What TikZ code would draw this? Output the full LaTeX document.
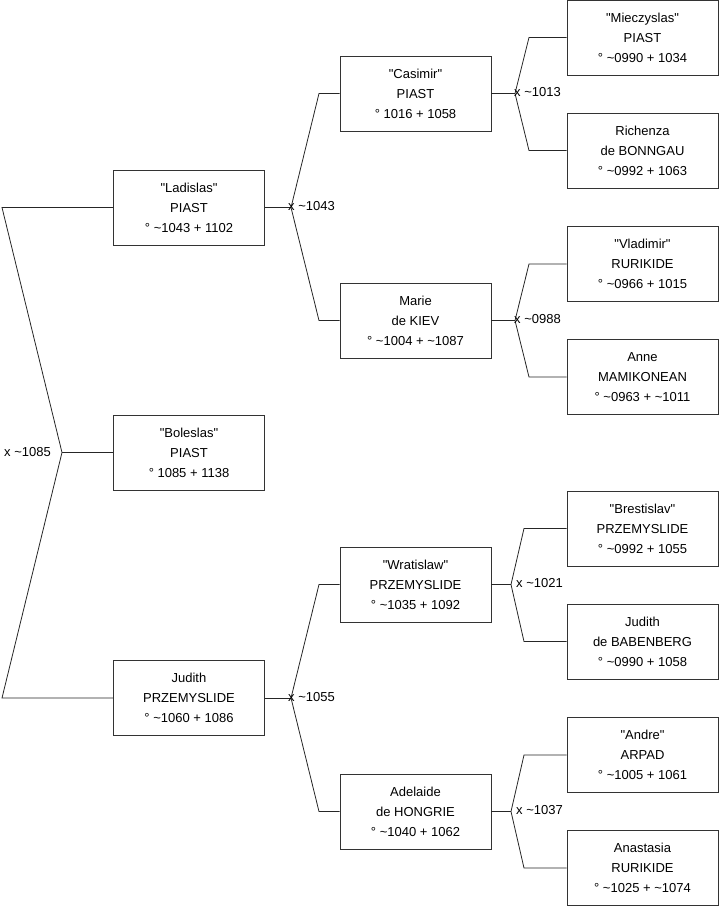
\documentclass[tikz,border=0pt]{standalone}
\usepackage{fontspec}
\setmainfont{Liberation Sans}
\usepackage{xcolor}
\usepackage{tikz}

\newcommand{\qq}[1]{\textquotedbl#1\textquotedbl}

\tikzset{
  person/.style={draw=black!80, line width=0.9pt, minimum width=151pt, minimum height=75pt,
    inner sep=0pt, align=center, font=\fontsize{13}{20}\selectfont},
  link/.style={draw=black!85, line width=0.8pt},
  wed/.style={inner sep=0pt, font=\fontsize{13}{15}\selectfont}
}

\begin{document}
\begin{tikzpicture}[x=1pt, y=-1pt]
  \useasboundingbox (0,0) rectangle (719,908);

  % generation 1
  \node[person] (lad) at (189,207.5) {\qq{Ladislas}\\PIAST\\° \textasciitilde1043 + 1102};
  \node[person] (bol) at (189,452.5) {\qq{Boleslas}\\PIAST\\° 1085 + 1138};
  \node[person] (jud) at (189,698) {Judith\\PRZEMYSLIDE\\° \textasciitilde1060 + 1086};

  % generation 2
  \node[person] (cas) at (415.5,93.5) {\qq{Casimir}\\PIAST\\° 1016 + 1058};
  \node[person] (mar) at (415.5,320.5) {Marie\\de KIEV\\° \textasciitilde1004 + \textasciitilde1087};
  \node[person] (wra) at (415.5,584.5) {\qq{Wratislaw}\\PRZEMYSLIDE\\° \textasciitilde1035 + 1092};
  \node[person] (ade) at (415.5,811.5) {Adelaide\\de HONGRIE\\° \textasciitilde1040 + 1062};

  % generation 3
  \node[person] (mie) at (642.5,37.5) {\qq{Mieczyslas}\\PIAST\\° \textasciitilde0990 + 1034};
  \node[person] (ric) at (642.5,150.5) {Richenza\\de BONNGAU\\° \textasciitilde0992 + 1063};
  \node[person] (vla) at (642.5,264) {\qq{Vladimir}\\RURIKIDE\\° \textasciitilde0966 + 1015};
  \node[person] (ann) at (642.5,377) {Anne\\MAMIKONEAN\\° \textasciitilde0963 + \textasciitilde1011};
  \node[person] (bre) at (642.5,528.5) {\qq{Brestislav}\\PRZEMYSLIDE\\° \textasciitilde0992 + 1055};
  \node[person] (jub) at (642.5,641.5) {Judith\\de BABENBERG\\° \textasciitilde0990 + 1058};
  \node[person] (and) at (642.5,755) {\qq{Andre}\\ARPAD\\° \textasciitilde1005 + 1061};
  \node[person] (ana) at (642.5,868) {Anastasia\\RURIKIDE\\° \textasciitilde1025 + \textasciitilde1074};

  % fork of Boleslas
  \coordinate (fbol) at (62,452.5);
  \coordinate (fbolA) at (2,207.5);
  \coordinate (fbolB) at (2,698);
  \draw[link] (bol.west) -- (fbol);
  \draw[link] (lad.west) -- (fbolA) -- (fbol) -- (fbolB) -- (jud.west);
  \node[wed, anchor=east] (wbol) at (51,452.5) {x \textasciitilde1085};

  % fork of Ladislas
  \coordinate (flad) at (291,207.5);
  \coordinate (fladA) at (319,93.5);
  \coordinate (fladB) at (319,320.5);
  \draw[link] (lad.east) -- (flad);
  \draw[link] (cas.west) -- (fladA) -- (flad) -- (fladB) -- (mar.west);
  \node[wed, anchor=west] (wlad) at (288,206.5) {x \textasciitilde1043};

  % fork of Judith
  \coordinate (fjud) at (291,698);
  \coordinate (fjudA) at (319,584.5);
  \coordinate (fjudB) at (319,811.5);
  \draw[link] (jud.east) -- (fjud);
  \draw[link] (wra.west) -- (fjudA) -- (fjud) -- (fjudB) -- (ade.west);
  \node[wed, anchor=west] (wjud) at (288,697) {x \textasciitilde1055};

  % fork of Casimir
  \coordinate (fcas) at (515,93.5);
  \coordinate (fcasA) at (529,37.5);
  \coordinate (fcasB) at (529,150.5);
  \draw[link] (cas.east) -- (fcas);
  \draw[link] (mie.west) -- (fcasA) -- (fcas) -- (fcasB) -- (ric.west);
  \node[wed, anchor=west] (wcas) at (514,92.5) {x \textasciitilde1013};

  % fork of Marie
  \coordinate (fmar) at (515,320.5);
  \coordinate (fmarA) at (529,264);
  \coordinate (fmarB) at (529,377);
  \draw[link] (mar.east) -- (fmar);
  \draw[link] (vla.west) -- (fmarA) -- (fmar) -- (fmarB) -- (ann.west);
  \node[wed, anchor=west] (wmar) at (514,319.5) {x \textasciitilde0988};

  % fork of Wratislaw
  \coordinate (fwra) at (511,584.5);
  \coordinate (fwraA) at (524,528.5);
  \coordinate (fwraB) at (524,641.5);
  \draw[link] (wra.east) -- (fwra);
  \draw[link] (bre.west) -- (fwraA) -- (fwra) -- (fwraB) -- (jub.west);
  \node[wed, anchor=west] (wwra) at (516,583.5) {x \textasciitilde1021};

  % fork of Adelaide
  \coordinate (fade) at (511,811.5);
  \coordinate (fadeA) at (524,755);
  \coordinate (fadeB) at (524,868);
  \draw[link] (ade.east) -- (fade);
  \draw[link] (and.west) -- (fadeA) -- (fade) -- (fadeB) -- (ana.west);
  \node[wed, anchor=west] (wade) at (516,810.5) {x \textasciitilde1037};
\end{tikzpicture}
\end{document}
